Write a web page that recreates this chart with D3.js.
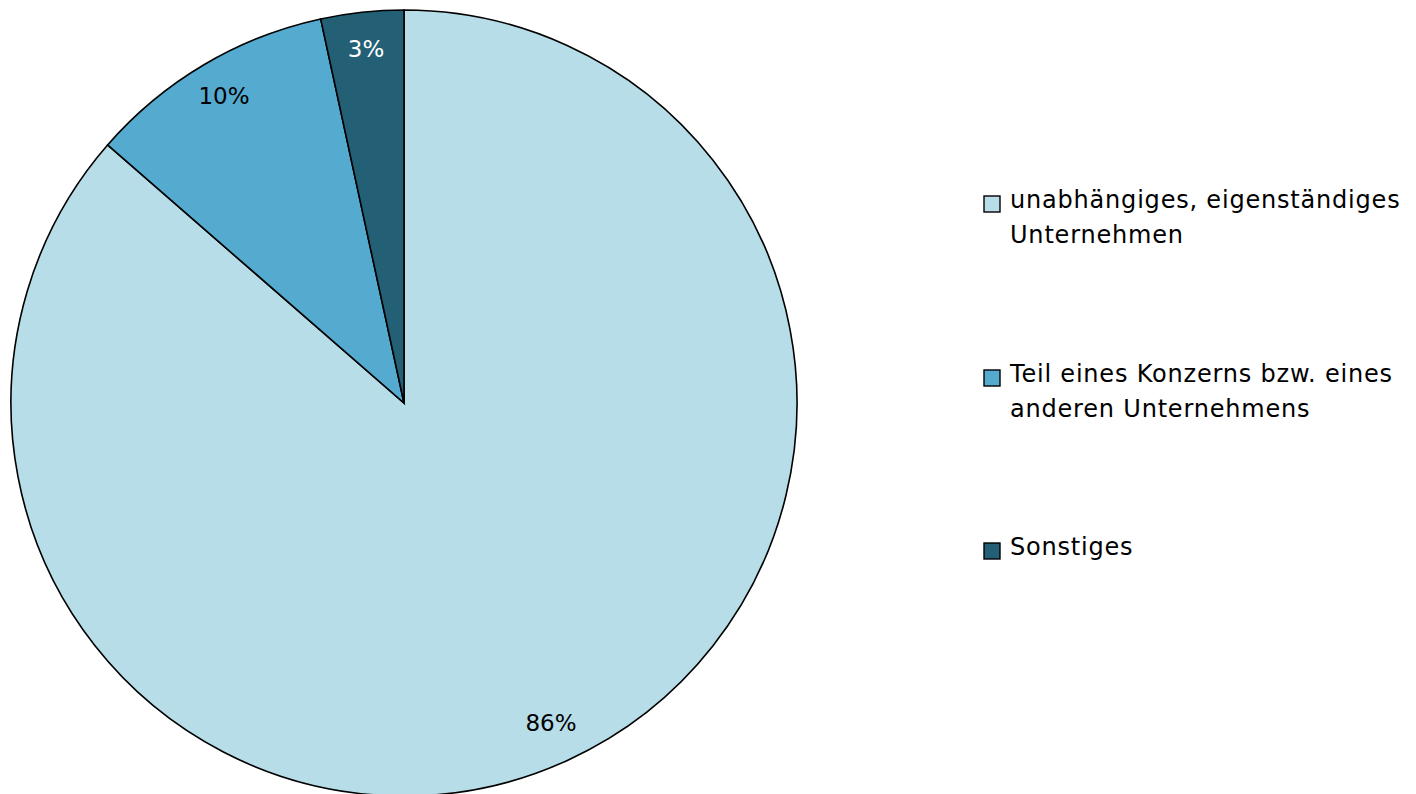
<!DOCTYPE html>
<html>
<head>
<meta charset="utf-8">
<script src="https://cdn.jsdelivr.net/npm/d3@7"></script>
<style>
  html, body { margin: 0; padding: 0; background: #fff; }
  svg { display: block; }
</style>
</head>
<body>
<svg id="chart" width="1416" height="794"></svg>
<script>
const categories = [
  ["unabhängiges, eigenständiges", "Unternehmen"],
  ["Teil eines Konzerns bzw. eines", "anderen Unternehmens"],
  ["Sonstiges"]
];
const values = [86.4, 10.2, 3.4];
const labels = ["86%", "10%", "3%"];
const colors = ["#b7dde8", "#55aacf", "#236076"];
const labelColors = ["#000", "#000", "#fff"];

const svg = d3.select("#chart");
const cx = 404, cy = 403, r = 393;
const font = "'DejaVu Sans', sans-serif";

const pie = d3.pie().sort(null).value(d => d);
const arcs = pie(values);
const arc = d3.arc().innerRadius(0).outerRadius(r);
const labelArc = d3.arc().innerRadius(354).outerRadius(354);

const g = svg.append("g").attr("transform", `translate(${cx},${cy})`);
g.selectAll("path.slice").data(arcs).join("path")
  .attr("class", "slice")
  .attr("d", arc)
  .attr("fill", (d, i) => colors[i])
  .attr("stroke", "#000")
  .attr("stroke-width", 1.6)
  .attr("stroke-linejoin", "miter");

g.selectAll("text.lbl").data(arcs).join("text")
  .attr("class", "lbl")
  .attr("x", d => Math.round(labelArc.centroid(d)[0]))
  .attr("y", d => Math.round(labelArc.centroid(d)[1] + 6))
  .attr("text-anchor", "middle")
  .attr("font-family", font)
  .attr("font-size", 23)
  .attr("fill", (d, i) => labelColors[i])
  .text((d, i) => labels[i]);

const legend = svg.append("g").attr("transform", "translate(984,0)");
const itemY = [208, 382, 555];
categories.forEach((lines, i) => {
  const it = legend.append("g").attr("transform", `translate(0,${itemY[i]})`);
  it.append("rect")
    .attr("x", 0).attr("y", -12).attr("width", 16).attr("height", 16)
    .attr("fill", colors[i]).attr("stroke", "#000").attr("stroke-width", 1.4);
  const t = it.append("text")
    .attr("font-family", font).attr("font-size", 24)
    .attr("letter-spacing", 0.8).attr("fill", "#000");
  lines.forEach((ln, j) => {
    t.append("tspan").attr("x", 26).attr("y", j * 35).text(ln);
  });
});
</script>
</body>
</html>
